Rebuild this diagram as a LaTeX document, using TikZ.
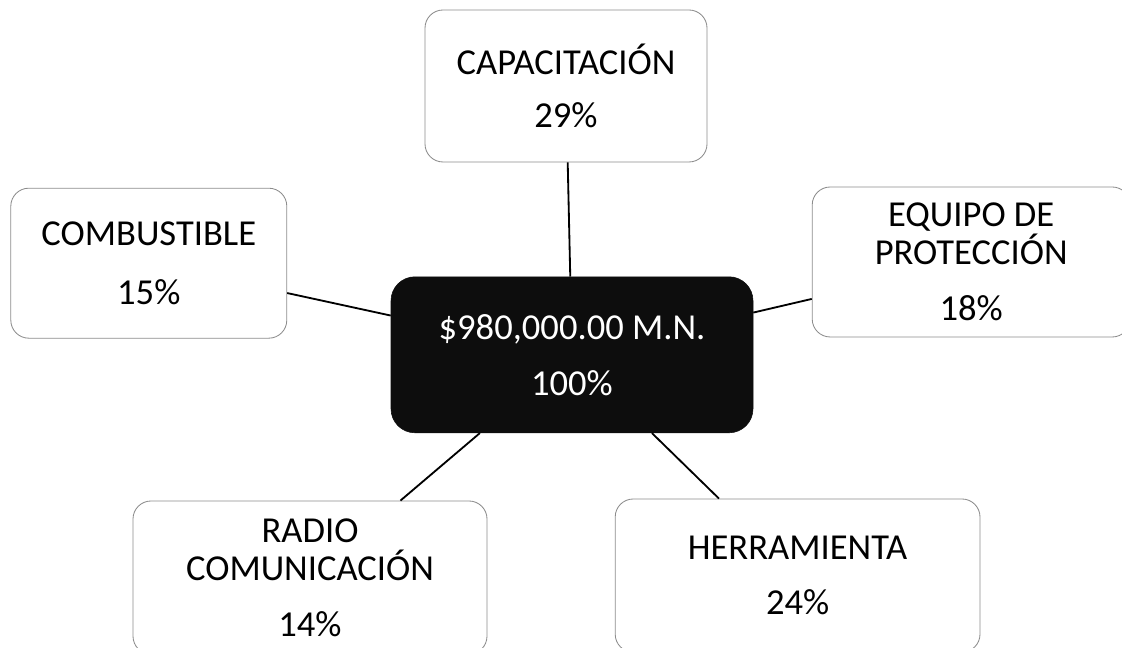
\documentclass[tikz,border=0pt]{standalone}
\usepackage{fontspec}
\setmainfont{Carlito}
\usetikzlibrary{positioning}

\tikzset{
  partbox/.style={draw=black!45, line width=0.6pt, fill=white, rounded corners=0.45cm,
    inner sep=0pt, align=center, font=\fontsize{26}{27}\selectfont},
  totalbox/.style={draw=black!95, fill=black!95, text=white, rounded corners=0.6cm,
    inner sep=0pt, align=center, font=\fontsize{26}{27}\selectfont},
  link/.style={line width=1.3pt, color=black}
}

\begin{document}
\begin{tikzpicture}
			%%%%% START %%%%%
			
			\useasboundingbox (0, 0) rectangle (28.05, 16.2);
			
			\node[totalbox, minimum width=9.05cm, minimum height=3.9cm] (total) at (14.3, 7.33) {\$980,000.00 M.N.\\[13pt]100\%};
			
			\node[partbox, minimum width=7.05cm, minimum height=3.8cm] (capac) at (14.15, 14.05) {CAPACITACIÓN\\[11pt]29\%};
			\node[partbox, minimum width=6.9cm, minimum height=3.75cm] (combus) at (3.72, 9.62) {COMBUSTIBLE\\[15pt]15\%};
			\node[partbox, minimum width=7.95cm, minimum height=3.75cm] (equipo) at (24.28, 9.65) {EQUIPO DE\\PROTECCIÓN\\[13pt]18\%};
			\node[partbox, minimum width=8.85cm, minimum height=3.83cm] (radio) at (7.75, 1.76) {RADIO\\COMUNICACIÓN\\[13pt]14\%};
			\node[partbox, minimum width=9.12cm, minimum height=3.83cm] (herram) at (19.94, 1.81) {HERRAMIENTA\\[12pt]24\%};
			
			\draw[link] (total) -- (capac);
			\draw[link] (total) -- (combus);
			\draw[link] (total) -- (equipo);
			\draw[link] (total) -- (radio);
			\draw[link] (total) -- (herram);
			
			%%%%% END %%%%%
\end{tikzpicture}
\end{document}
